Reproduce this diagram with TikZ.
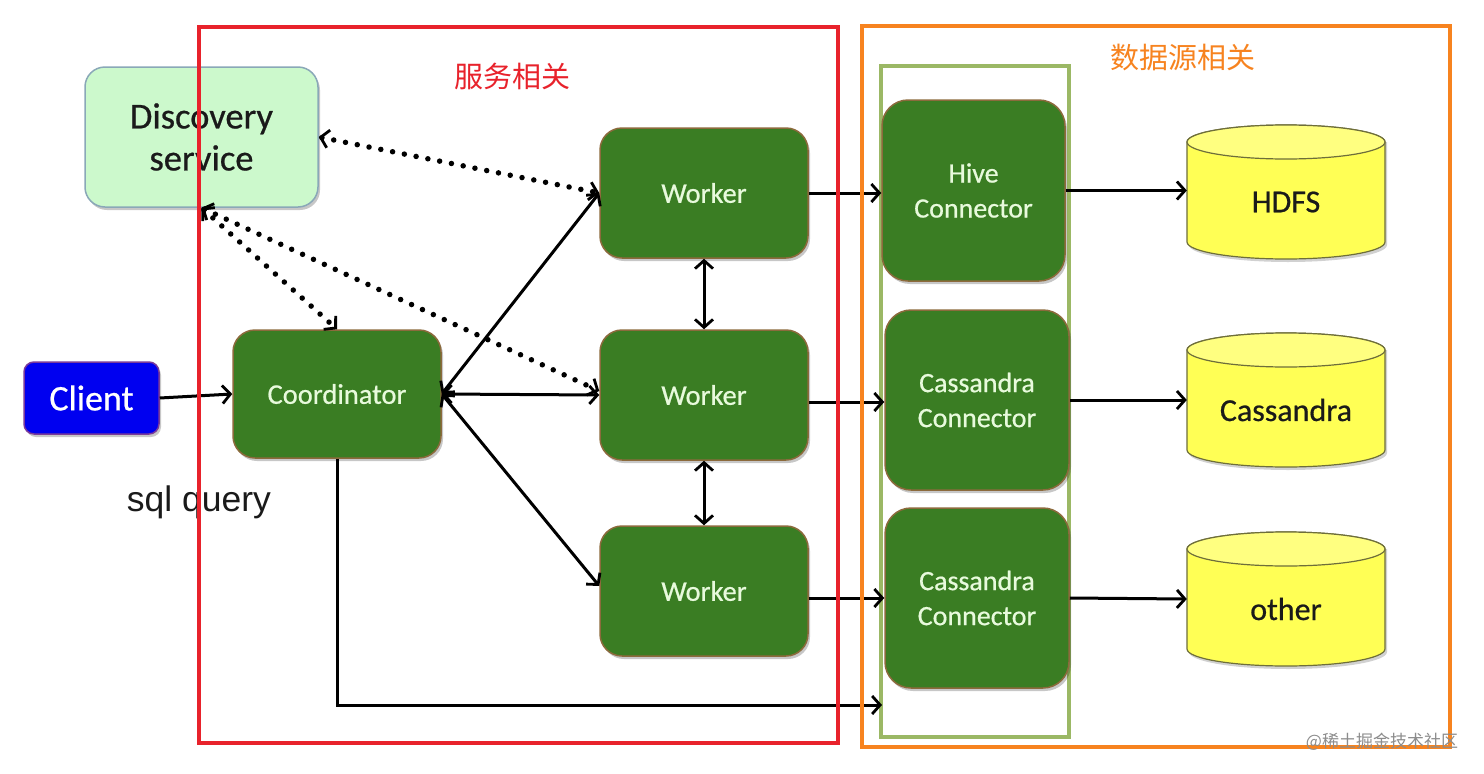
\documentclass[tikz,border=0pt]{standalone}
\usepackage{fontspec}
\setmainfont{Carlito}
\newfontfamily\boxfont[FakeBold=0.6]{Carlito}
\newfontfamily\helv{Liberation Sans}
\newfontfamily\cjk{Noto Sans CJK SC}
\usetikzlibrary{arrows.meta,shadows,backgrounds,calc}
\definecolor{gbox}{HTML}{3A7D23}
\definecolor{gborder}{HTML}{8C6A3C}
\definecolor{gtext}{HTML}{E8FADC}
\definecolor{discfill}{HTML}{CCF9CC}
\definecolor{discborder}{HTML}{8AA8B8}
\definecolor{clientfill}{HTML}{0000F0}
\definecolor{clientborder}{HTML}{7A3A9A}
\definecolor{cylfill}{HTML}{FFFF55}
\definecolor{cyltop}{HTML}{FFFF80}
\definecolor{cylborder}{HTML}{6E6E3A}
\definecolor{redbox}{HTML}{E8222B}
\definecolor{orangebox}{HTML}{F7831F}
\definecolor{olivebox}{HTML}{9BB865}
\definecolor{darktext}{HTML}{1A1A1A}

\newcommand\dbcyl[4]{%
  \node[cylbox] (#1) at (#2,#3) {};
  \fill[black,opacity=0.18] ({#2-97},{#3+50}) -- ({#2-97},{#3-53}) arc[start angle=180,end angle=360,x radius=99,y radius=17] -- ({#2+101},{#3+50}) -- cycle;
  \draw[cylborder,fill=cylfill,line width=1.2pt] ({#2-99},{#3+50}) -- ({#2-99},{#3-50}) arc[start angle=180,end angle=360,x radius=99,y radius=17] -- ({#2+99},{#3+50}) arc[start angle=0,end angle=180,x radius=99,y radius=17] -- cycle;
  \draw[cylborder,fill=cyltop,line width=1.2pt] (#2,{#3+50}) ellipse[x radius=99,y radius=17];
  \node[cyltext] (#1label) at (#2,{#3-10}) {#4};
}

\begin{document}
\begin{tikzpicture}[x=1pt,y=1pt,
  shadowed/.style={drop shadow={shadow xshift=2pt,shadow yshift=-3pt,opacity=0.22,fill=black}},
  greenbox/.style={shadowed,draw=gborder,line width=1.5pt,fill=gbox,rounded corners=22pt,
    text=gtext,align=center,font=\boxfont\fontsize{28.5}{35}\selectfont,inner sep=0pt,
    minimum width=208pt,minimum height=130pt},
  connbox/.style={greenbox,minimum width=184pt,minimum height=180pt,rounded corners=26pt,
    font=\boxfont\fontsize{28}{35}\selectfont},
  cylbox/.style={inner sep=0pt,minimum width=198pt,minimum height=134pt},
  cyltext/.style={text=darktext,font=\boxfont\fontsize{32}{32}\selectfont,inner sep=0pt},
  link/.style={line width=3pt,-{Straight Barb[length=8pt,width=18pt,line width=2.8pt]}},
  dlink/.style={line width=3pt,{Straight Barb[length=8pt,width=18pt,line width=2.8pt]}-{Straight Barb[length=8pt,width=18pt,line width=2.8pt]}},
  dots/.style={line width=5.5pt,line cap=round,dash pattern=on 0pt off 12pt,
    {Straight Barb[length=8pt,width=18pt,line width=2.8pt]}-{Straight Barb[length=8pt,width=18pt,line width=2.8pt]}},
  frame/.style={line width=4pt,inner sep=0pt},
]
\useasboundingbox[fill=white] (0,0) rectangle (1484,-774);

% olive container
\node[frame,draw=olivebox,minimum width=188pt,minimum height=671pt] (dsbox) at (975,-401.5) {};

% nodes
\node[shadowed,draw=discborder,line width=1.5pt,fill=discfill,rounded corners=20pt,
  minimum width=233pt,minimum height=140pt,align=center,text=darktext,
  font=\boxfont\fontsize{36.5}{42}\selectfont,inner sep=0pt] (disc) at (201.5,-137) {Discovery\\service};
\node[shadowed,draw=clientborder,line width=1.5pt,fill=clientfill,rounded corners=10pt,
  minimum width=135pt,minimum height=72pt,text=white,
  font=\boxfont\fontsize{36}{36}\selectfont,inner sep=0pt] (client) at (91.5,-398) {Client};
\node[greenbox,minimum height=128pt] (coord) at (337,-394) {Coordinator};
\node[greenbox] (w1) at (704,-193) {Worker};
\node[greenbox] (w2) at (704,-395) {Worker};
\node[greenbox] (w3) at (704,-591) {Worker};
\node[connbox,minimum width=183pt,minimum height=181pt] (hive) at (973.5,-190.5) {Hive\\Connector};
\node[connbox] (cass1) at (977,-400) {Cassandra\\Connector};
\node[connbox] (cass2) at (977,-598) {Cassandra\\Connector};

\dbcyl{hdfs}{1286}{-192}{HDFS}
\dbcyl{cass}{1286}{-400}{Cassandra}
\dbcyl{other}{1286}{-599}{other}

\node[text=darktext,font=\helv\fontsize{35.5}{35.5}\selectfont,inner sep=0pt] (sql) at (199,-502) {sql query};

% dotted discovery links
\begin{pgfonlayer}{background}
\draw[dots] (disc.south) -- (w3.west);
\end{pgfonlayer}
\draw[dots] (disc.east) -- (w1.west);
\draw[dots] (disc.south) -- (coord.north);
\draw[dots] (disc.south) -- ([yshift=4pt]w2.west);

% solid links
\draw[link] (client.east) -- (coord.west);
\draw[dlink] (coord.east) -- (w1.west);
\draw[dlink] (coord.east) -- (w2.west);
\draw[dlink] (coord.east) -- ([yshift=5pt]w3.west);
\draw[dlink] (w1.south) -- (w2.north);
\draw[dlink] (w2.south) -- (w3.north);
\draw[link] (w1.east) -- (w1.east -| hive.west);
\draw[link] ([yshift=-7pt]w2.east) -- ([yshift=-7pt]w2.east -| cass1.west);
\draw[link] ([yshift=-7pt]w3.east) -- ([yshift=-7pt]w3.east -| cass2.west);
\coordinate (sqlend) at (882,-705);
\draw[link] (coord.south) |- (sqlend);
\draw[link] (hive.east) -- (hive.east -| hdfs.west);
\draw[link] (cass1.east) -- (cass.west);
\draw[link] (cass2.east) -- (other.west);

% group frames
\node[frame,draw=redbox,minimum width=639pt,minimum height=716pt] (svcbox) at (518.5,-385) {};
\node[frame,draw=orangebox,minimum width=588pt,minimum height=721pt] (srcbox) at (1156,-386.5) {};
\node[text=redbox,font=\cjk\fontsize{29}{29}\selectfont,inner sep=0pt] (svclabel) at (512,-76) {服务相关};
\node[text=orangebox,font=\cjk\fontsize{29}{29}\selectfont,inner sep=0pt] (srclabel) at (1183,-58) {数据源相关};
\node[text=black!45,font=\cjk\fontsize{17}{17}\selectfont,inner sep=0pt] (mark) at (1382,-742) {@稀土掘金技术社区};
\end{tikzpicture}
\end{document}
